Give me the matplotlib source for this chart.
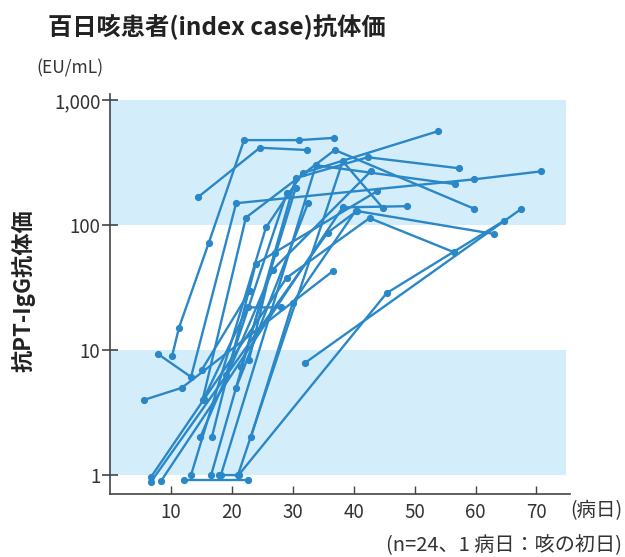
import matplotlib
matplotlib.use("Agg")
import matplotlib.pyplot as plt
from matplotlib.ticker import FixedLocator, NullLocator

plt.rcParams['font.family'] = ['Noto Sans CJK JP', 'DejaVu Sans']

# 病日と抗体価（各患者の測定値）
days = [
    [10.2, 11.3, 16.2, 22.0, 31.1, 36.7],
    [14.4, 24.6, 32.3],
    [7.9, 13.3, 20.7, 59.8, 70.8],
    [15.2, 22.3, 36.9, 59.7],
    [5.6, 11.8, 36.6],
    [17.9, 21.1, 45.4, 64.6],
    [32.0, 67.4],
    [12.1, 22.6],
    [6.7, 29.0, 42.6, 56.4],
    [6.7, 35.7, 40.5, 63.1],
    [8.4, 38.2, 48.7],
    [13.3, 25.6, 31.6, 53.8],
    [16.6, 30.5, 42.3, 57.2],
    [18.2, 33.8, 56.7],
    [21.0, 38.2, 44.8],
    [14.8, 26.7, 42.8],
    [16.7, 23.9, 43.9],
    [23.1, 30.0, 40.3],
    [15.4, 22.6, 28.0],
    [20.7, 32.5],
    [19.0, 29.0],
    [21.5, 30.5],
    [22.8, 27.0],
    [15.1, 23.0],
]
titers = [
    [9, 15, 72, 480, 480, 500],
    [167, 417, 400],
    [9.3, 6.1, 150, 233, 270],
    [4, 115, 400, 136],
    [4, 5, 43],
    [1.0, 1.0, 28.6, 108],
    [7.9, 134],
    [0.92, 0.92],
    [0.96, 38, 114, 61],
    [0.88, 87, 130, 85],
    [0.9, 139, 142],
    [1.0, 96, 261, 565],
    [1.0, 238, 350, 286],
    [1.0, 302, 213],
    [1.0, 325, 137],
    [2.0, 44, 270],
    [2.0, 49, 188],
    [2.0, 24, 130],
    [4.1, 22, 22],
    [5.0, 150],
    [6.3, 180],
    [7.3, 200],
    [8.3, 60],
    [7.0, 30],
]

x_ticks = [10, 20, 30, 40, 50, 60, 70]
y_ticks = [1, 10, 100, 1000]
y_ticklabels = ['1', '10', '100', '1,000']

line_color = '#2a87c8'
band_color = '#d4edfa'
text_color = '#333333'

fig = plt.figure(figsize=(6.25, 5.57), dpi=100)
ax = fig.add_axes([0.176, 0.113, 0.736, 0.718])

ax.set_yscale('log')
ax.set_xlim(0, 75.5)
ax.set_ylim(0.705, 1120)

# 背景の帯
for lo, hi in [(1, 10), (100, 1000)]:
    ax.fill_between([0, 74.8], lo, hi, color=band_color, lw=0, zorder=0)

for d, t in zip(days, titers):
    ax.plot(d, t, color=line_color, lw=1.7, marker='o', ms=4.2,
            solid_capstyle='round', zorder=3)

for s in ['top', 'right']:
    ax.spines[s].set_visible(False)
for s in ['left', 'bottom']:
    ax.spines[s].set_color('#444444')
    ax.spines[s].set_linewidth(1.2)

ax.xaxis.set_major_locator(FixedLocator(x_ticks))
ax.set_xticklabels([str(v) for v in x_ticks])
ax.yaxis.set_major_locator(FixedLocator(y_ticks))
ax.yaxis.set_minor_locator(NullLocator())
ax.set_yticklabels(y_ticklabels)
ax.tick_params(axis='x', direction='in', length=6, width=1.0, color='#444444',
               labelsize=13.5, labelcolor=text_color, pad=6)
ax.tick_params(axis='y', direction='inout', length=12, width=1.2, color='#444444',
               labelsize=13.5, labelcolor=text_color, pad=1)

fig.text(0.077, 0.952, '百日咳患者(index case)抗体価', fontsize=17.5,
         fontweight='bold', color='#222222', va='center', ha='left')
fig.text(0.058, 0.878, '(EU/mL)', fontsize=12.5, color=text_color, va='center', ha='left')
fig.text(0.037, 0.479, '抗PT-IgG抗体価', fontsize=16, fontweight='bold', color='#222222',
         rotation=90, va='center', ha='center')
fig.text(0.913, 0.083, '(病日)', fontsize=14, color=text_color, va='center', ha='left')
fig.text(0.995, 0.021, '(n=24、1 病日：咳の初日)', fontsize=14.5, color=text_color,
         va='center', ha='right')

fig.savefig('out.png', dpi=100, facecolor='white')
